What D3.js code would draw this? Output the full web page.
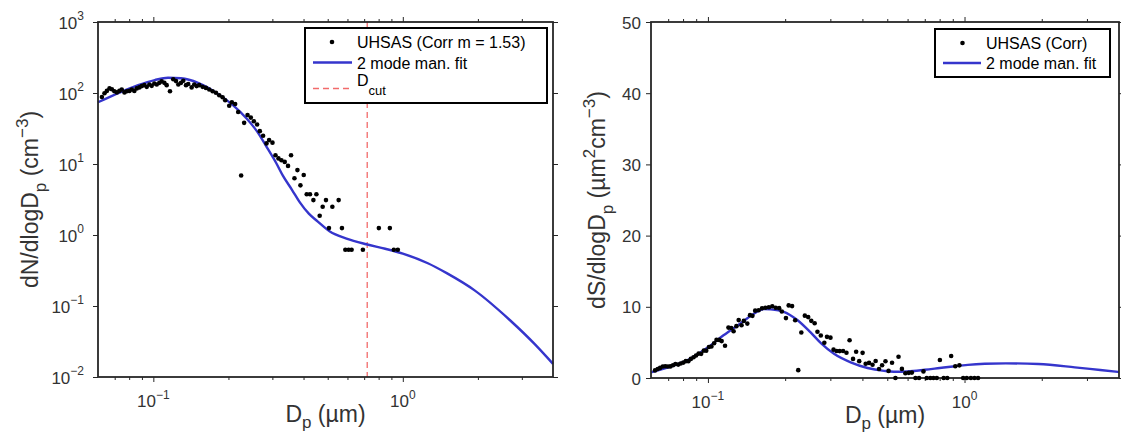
<!DOCTYPE html>
<html>
<head>
<meta charset="utf-8">
<script src="https://cdn.jsdelivr.net/npm/d3@7"></script>
<style>
body { margin: 0; background: white; }
text { font-family: "Liberation Sans", Arial, Helvetica, sans-serif; }
</style>
</head>
<body>
<div id="vizContainer"></div>
<script>
let w = 1121;
let h = 436;

// UHSAS bin diameters (um) and the two corrected distributions
let binDiam = [
	0.0622, 0.0637, 0.0651, 0.0667, 0.0682, 0.0698, 0.0714, 0.0731, 0.0747, 0.0766,
	0.0783, 0.0802, 0.0820, 0.0839, 0.0858, 0.0879, 0.0899, 0.0920, 0.0941, 0.0964,
	0.0985, 0.1009, 0.1032, 0.1057, 0.1080, 0.1107, 0.1131, 0.1166, 0.1202, 0.1233,
	0.1259, 0.1291, 0.1318, 0.1352, 0.1380, 0.1424, 0.1459, 0.1491, 0.1528, 0.1576,
	0.1625, 0.1675, 0.1728, 0.1782, 0.1837, 0.1895, 0.1941, 0.2014, 0.2064, 0.2128,
	0.2188, 0.2249, 0.2312, 0.2386, 0.2459, 0.2528, 0.2606, 0.2672, 0.2754, 0.2842,
	0.2911, 0.3003, 0.3087, 0.3174, 0.3262, 0.3363, 0.3467, 0.3565, 0.3678, 0.3781,
	0.3887, 0.4007, 0.4119, 0.4246, 0.4381, 0.4504, 0.4643, 0.4773, 0.4920, 0.5058,
	0.5219, 0.5380, 0.5531, 0.5702, 0.5883, 0.6065, 0.6234, 0.6439, 0.6650, 0.6918,
	0.7125, 0.7358, 0.7565, 0.7798, 0.8017, 0.8295, 0.8567, 0.8872, 0.9204, 0.9550,
	0.9881, 1.0205, 1.0588, 1.0935, 1.1293
]

let dNdlogDp = [
	88, 99, 107, 116, 113, 106, 102, 107, 112, 102,
	106, 107, 112, 107, 116, 120, 125, 129, 122, 132,
	126, 136, 132, 139, 146, 139, 129, 106, 156, 147,
	132, 139, 149, 129, 134, 120, 132, 125, 129, 122,
	118, 112, 106, 101, 93, 87, 79, 66, 74, 70,
	54, 6.9, 38, 49, 45, 40, 36, 29, 25, 19.5,
	21.7, 20, 13.3, 12, 11.3, 10.7, 9.4, 13.3, 6.3, 8.2,
	5.0, 7.0, 3.75, 3.75, 3.1, 3.75, 1.87, 2.5, 3.1, 1.25,
	2.5, 0, 3.1, 1.25, 0.62, 0.62, 0.62, 0, 0, 0.62,
	0, 0, 0, 0, 1.25, 0, 0, 1.25, 0.62, 0.62,
	0, 0, 0, 0, 0
]

let dSdlogDp = [
	1.07, 1.26, 1.42, 1.62, 1.65, 1.62, 1.63, 1.80, 1.96, 1.88,
	2.04, 2.16, 2.37, 2.37, 2.68, 2.91, 3.17, 3.43, 3.39, 3.85,
	3.84, 4.35, 4.42, 4.88, 5.35, 5.35, 5.18, 4.53, 7.08, 7.02,
	6.57, 7.28, 8.13, 7.41, 8.02, 7.64, 8.83, 8.73, 9.46, 9.52,
	9.79, 9.87, 9.94, 10.08, 9.86, 9.81, 9.35, 8.41, 10.2, 10.1,
	8.12, 1.10, 6.38, 8.76, 8.55, 8.03, 7.68, 6.50, 5.96, 4.95,
	5.78, 5.67, 3.98, 3.80, 3.78, 3.80, 3.55, 5.31, 2.68, 3.68,
	2.37, 3.53, 2.00, 2.12, 1.87, 2.39, 1.27, 1.79, 2.36, 1.00,
	2.14, 0, 2.98, 1.28, 0.67, 0.72, 0.76, 0, 0, 0.93,
	0, 0, 0, 0, 2.52, 0, 0, 3.09, 1.65, 1.78,
	0, 0, 0, 0, 0
]

// 2 mode manual fit
let fitDiamN = [0.06, 0.0744, 0.0869, 0.1013, 0.1145, 0.129, 0.151, 0.166, 0.176, 0.196,
	0.209, 0.236, 0.26, 0.284, 0.31, 0.331, 0.36, 0.386, 0.42, 0.451,
	0.51, 0.595, 0.714, 0.85, 1.0, 1.26, 1.5, 1.94, 2.69, 3.38, 4.0]
let fitN = [74, 104, 129, 152, 164, 161, 139, 118, 104, 80,
	67, 44, 29, 17.6, 10.5, 6.8, 4.3, 2.9, 2.0, 1.6,
	1.12, 0.89, 0.74, 0.64, 0.547, 0.40, 0.29, 0.166, 0.063, 0.029, 0.0153]

let fitDiamS = [0.06, 0.0733, 0.0852, 0.0991, 0.115, 0.1338, 0.1555, 0.165, 0.1753, 0.1976,
	0.223, 0.2513, 0.2756, 0.31, 0.36, 0.419, 0.486, 0.53, 0.6, 0.7,
	0.8, 0.9, 1.03, 1.2, 1.45, 1.94, 2.69, 3.38, 4.0]
let fitS = [0.78, 1.73, 2.7, 4.2, 6.0, 7.65, 9.3, 9.7, 9.65, 9.3,
	8.15, 6.4, 4.9, 3.4, 2.2, 1.4, 1.0, 0.88, 0.92, 1.15,
	1.4, 1.62, 1.85, 2.0, 2.06, 1.96, 1.5, 1.12, 0.85]

let dCut = 0.72

let xMajor = [0.1, 1]
let xMinor = [0.07, 0.08, 0.09, 0.2, 0.3, 0.4, 0.5, 0.6, 0.7, 0.8, 0.9, 2, 3]
let yTicksN = [0.01, 0.1, 1, 10, 100, 1000]
let yExpN = ["\u22122", "\u22121", "0", "1", "2", "3"]
let xExp = ["\u22121", "0"]
let yTicksS = [0, 10, 20, 30, 40, 50]

let blue = "#3535cc";
let axisColor = "#262626";
let labelColor = "#333333";

let viz = d3.select('#vizContainer').append('svg')
	.attr('width', w)
	.attr('height', h)
	.style('background-color', 'white')
	;

// text with sub/superscripts, parts = [[text, kind], ...]
function richText(sel, parts, base, small, supShift, subShift){
	let cur = 0;
	parts.forEach(function(p){
		let target = 0;
		if (p[1] == "sup") target = -supShift;
		if (p[1] == "sub") target = subShift;
		sel.append("tspan")
			.attr("dy", target - cur)
			.style("font-size", (p[1] ? small : base) + "px")
			.text(p[0]);
		cur = target;
	});
}

function frameAxes(g, x, y, yTicks){
	let x0 = x.range()[0], x1 = x.range()[1];
	let y0 = y.range()[0], y1 = y.range()[1];

	let axes = [
		[d3.axisBottom(x).tickValues(xMajor).tickSize(5), "translate(0," + y0 + ")"],
		[d3.axisBottom(x).tickValues(xMinor).tickSize(3), "translate(0," + y0 + ")"],
		[d3.axisTop(x).tickValues(xMajor).tickSize(5), "translate(0," + y1 + ")"],
		[d3.axisTop(x).tickValues(xMinor).tickSize(3), "translate(0," + y1 + ")"],
		[d3.axisLeft(y).tickValues(yTicks).tickSize(5), "translate(" + x0 + ",0)"],
		[d3.axisRight(y).tickValues(yTicks).tickSize(5), "translate(" + x1 + ",0)"]
	];
	axes.forEach(function(a){
		let ag = g.append("g")
			.attr("transform", a[1])
			.call(a[0].tickSizeOuter(0).tickFormat(""));
		ag.select(".domain").remove();
		ag.selectAll("line").attr("stroke", axisColor).attr("stroke-width", 1);
	});

	g.append("rect")
		.attr("x", x0)
		.attr("y", y1)
		.attr("width", x1 - x0)
		.attr("height", y0 - y1)
		.attr("fill", "none")
		.attr("stroke", axisColor)
		.attr("stroke-width", 1.8);

	// x tick labels 10^-1, 10^0
	xMajor.forEach(function(v, i){
		let t = g.append("text")
			.attr("x", x(v))
			.attr("y", y0 + 30)
			.attr("text-anchor", "middle")
			.attr("fill", labelColor);
		richText(t, [["10", ""], [xExp[i], "sup"]], 17, 12, 8, 0);
	});

	// x label
	let xl = g.append("text")
		.attr("x", (x0 + x1) / 2)
		.attr("y", y0 + 45)
		.attr("text-anchor", "middle")
		.attr("fill", labelColor);
	richText(xl, [["D", ""], ["p", "sub"], ["\u00a0(\u00b5m)", ""]], 23, 17, 0, 6);
}

// ---------------- left panel: number distribution ----------------
let xL = d3.scaleLog().domain([0.06, 4]).range([98, 553]);
let yL = d3.scaleLog().domain([0.01, 1000]).range([377, 22]);

let leftGroup = viz.append('g').attr('class', 'leftGroup');

let fitLineN = d3.line()
	.x(function(d){ return xL(d[0]) })
	.y(function(d){ return yL(d[1]) })
	.curve(d3.curveMonotoneX);

leftGroup.append("line")
	.attr("x1", xL(dCut))
	.attr("x2", xL(dCut))
	.attr("y1", yL.range()[1])
	.attr("y2", yL.range()[0])
	.attr("stroke", "#f26b6b")
	.attr("stroke-width", 1.3)
	.attr("stroke-dasharray", "6,4");

leftGroup.append("path")
	.datum(d3.zip(fitDiamN, fitN))
	.attr("d", fitLineN)
	.attr("fill", "none")
	.attr("stroke", blue)
	.attr("stroke-width", 2.4);

leftGroup.selectAll(".datapoint")
	.data(d3.zip(binDiam, dNdlogDp).filter(function(d){ return d[1] > 0 }))
	.enter()
	.append("circle")
	.attr("class", "datapoint")
	.attr("cx", function(d){ return xL(d[0]) })
	.attr("cy", function(d){ return yL(d[1]) })
	.attr("r", 2.3)
	.attr("fill", "black");

frameAxes(leftGroup, xL, yL, yTicksN);

yTicksN.forEach(function(v, i){
	let t = leftGroup.append("text")
		.attr("x", 84)
		.attr("y", yL(v) + 7)
		.attr("text-anchor", "end")
		.attr("fill", labelColor);
	richText(t, [["10", ""], [yExpN[i], "sup"]], 17, 12, 9, 0);
});

let ylN = leftGroup.append("text")
	.attr("transform", "translate(38," + ((yL.range()[0] + yL.range()[1]) / 2) + ") rotate(-90)")
	.attr("text-anchor", "middle")
	.attr("fill", labelColor);
richText(ylN, [["dN/dlogD", ""], ["p", "sub"], ["\u00a0(cm", ""], ["\u22123", "sup"], [")", ""]], 23, 17, 10, 8);

// legend
let legL = leftGroup.append("g");
legL.append("rect")
	.attr("x", 305).attr("y", 28).attr("width", 242).attr("height", 75)
	.attr("fill", "white").attr("stroke", "black").attr("stroke-width", 2);
legL.append("circle").attr("cx", 332).attr("cy", 42).attr("r", 2.3).attr("fill", "black");
legL.append("text").attr("x", 357).attr("y", 47.5).style("font-size", "16px").text("UHSAS (Corr m = 1.53)");
legL.append("line").attr("x1", 313).attr("x2", 352).attr("y1", 62.5).attr("y2", 62.5)
	.attr("stroke", blue).attr("stroke-width", 2.4);
legL.append("text").attr("x", 357).attr("y", 68.5).style("font-size", "16px").text("2 mode man. fit");
legL.append("line").attr("x1", 313).attr("x2", 352).attr("y1", 88.5).attr("y2", 88.5)
	.attr("stroke", "#f26b6b").attr("stroke-width", 1.3).attr("stroke-dasharray", "6,4");
let dcutText = legL.append("text").attr("x", 357).attr("y", 85.5);
richText(dcutText, [["D", ""], ["cut", "sub"]], 16, 13, 0, 9);

// ---------------- right panel: surface distribution ----------------
let xR = d3.scaleLog().domain([0.06, 4]).range([651, 1119]);
let yR = d3.scaleLinear().domain([0, 50]).range([378, 22]);

let rightGroup = viz.append('g').attr('class', 'rightGroup');

let fitLineS = d3.line()
	.x(function(d){ return xR(d[0]) })
	.y(function(d){ return yR(d[1]) })
	.curve(d3.curveMonotoneX);

rightGroup.append("path")
	.datum(d3.zip(fitDiamS, fitS))
	.attr("d", fitLineS)
	.attr("fill", "none")
	.attr("stroke", blue)
	.attr("stroke-width", 2.4);

frameAxes(rightGroup, xR, yR, yTicksS);

rightGroup.selectAll(".datapoint")
	.data(d3.zip(binDiam, dSdlogDp))
	.enter()
	.append("circle")
	.attr("class", "datapoint")
	.attr("cx", function(d){ return xR(d[0]) })
	.attr("cy", function(d){ return yR(d[1]) })
	.attr("r", 2.3)
	.attr("fill", "black");

yTicksS.forEach(function(v){
	rightGroup.append("text")
		.attr("x", 641)
		.attr("y", yR(v) + 6.5)
		.attr("text-anchor", "end")
		.attr("fill", labelColor)
		.style("font-size", "17px")
		.text(v);
});

let ylS = rightGroup.append("text")
	.attr("transform", "translate(604.5," + ((yR.range()[0] + yR.range()[1]) / 2) + ") rotate(-90)")
	.attr("text-anchor", "middle")
	.attr("fill", labelColor);
richText(ylS, [["dS/dlogD", ""], ["p", "sub"], ["\u00a0(\u00b5m", ""], ["2", "sup"], ["cm", ""], ["\u22123", "sup"], [")", ""]], 23, 17, 10, 8);

let legR = rightGroup.append("g");
legR.append("rect")
	.attr("x", 935).attr("y", 29).attr("width", 175).attr("height", 48)
	.attr("fill", "white").attr("stroke", "black").attr("stroke-width", 2);
legR.append("circle").attr("cx", 962.5).attr("cy", 43).attr("r", 2.3).attr("fill", "black");
legR.append("text").attr("x", 986).attr("y", 48.5).style("font-size", "16px").text("UHSAS (Corr)");
legR.append("line").attr("x1", 943).attr("x2", 981).attr("y1", 63).attr("y2", 63)
	.attr("stroke", blue).attr("stroke-width", 2.4);
legR.append("text").attr("x", 986).attr("y", 69).style("font-size", "16px").text("2 mode man. fit");
</script>
</body>
</html>
